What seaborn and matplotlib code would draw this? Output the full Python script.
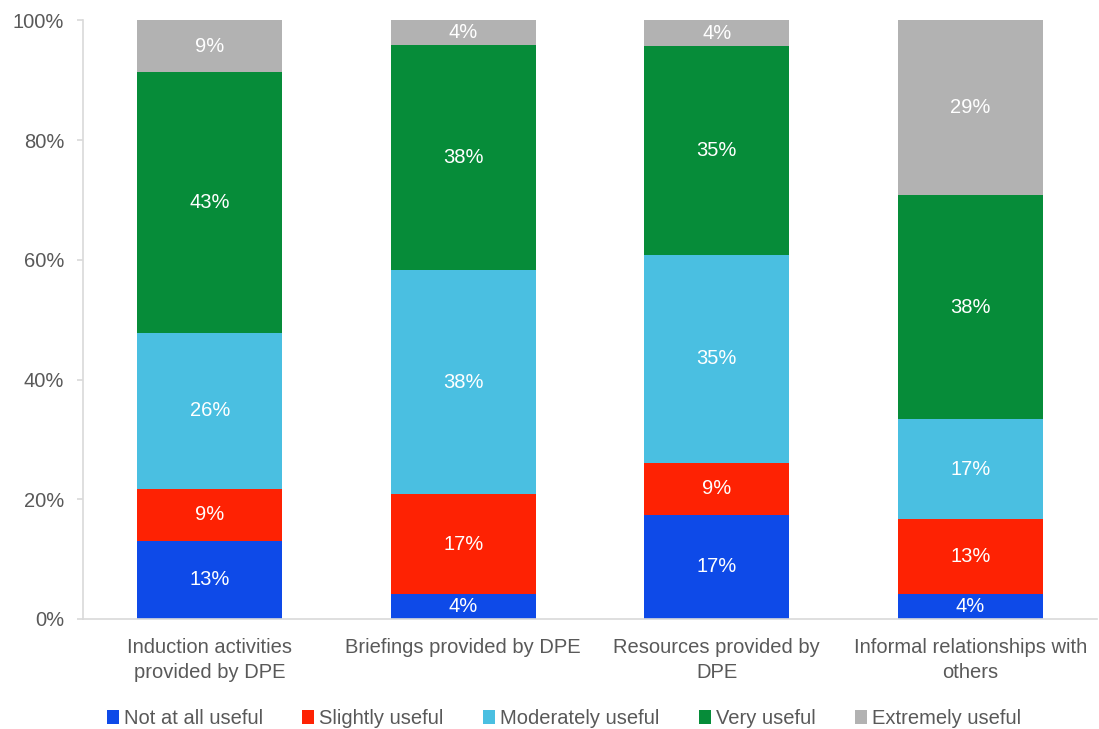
import numpy as np
import pandas as pd
import matplotlib
matplotlib.use("Agg")
import matplotlib.pyplot as plt
from matplotlib.patches import Patch
from matplotlib.ticker import FuncFormatter
import seaborn as sns

categories = ["Induction activities provided by DPE", "Briefings provided by DPE",
              "Resources provided by DPE", "Informal relationships with others"]
tick_labels = ["Induction activities\nprovided by DPE", "Briefings provided by DPE",
               "Resources provided by\nDPE", "Informal relationships with\nothers"]
series_names = ["Not at all useful", "Slightly useful", "Moderately useful",
                "Very useful", "Extremely useful"]
not_at_all = [13.04, 4.17, 17.39, 4.17]
slightly = [8.70, 16.67, 8.70, 12.50]
moderately = [26.09, 37.50, 34.78, 16.67]
very = [43.48, 37.50, 34.78, 37.50]
extremely = [8.70, 4.17, 4.35, 29.17]
colors = ["#0E4AE8", "#FE2203", "#4ABFE1", "#068C39", "#B2B2B2"]

sns.set_style("white")
plt.rcParams["font.family"] = ["Liberation Sans", "DejaVu Sans"]

series = [not_at_all, slightly, moderately, very, extremely]
vals = np.array(series, dtype=float)
cum = np.cumsum(vals, axis=0)

fig = plt.figure(figsize=(10.99, 7.29), dpi=100)
ax = fig.add_axes([83 / 1099, 1 - 619 / 729, (1097 - 83) / 1099, (619 - 20.4) / 729])

for i in range(len(series) - 1, -1, -1):
    df = pd.DataFrame({"cat": categories, "val": cum[i]})
    sns.barplot(data=df, x="cat", y="val", order=categories, color=colors[i],
                saturation=1, width=0.572, linewidth=0, ax=ax)

for i in range(len(series)):
    for j in range(len(categories)):
        v = vals[i, j]
        mid = cum[i, j] - v / 2
        ax.text(j, mid, f"{int(np.floor(v + 0.5))}%", ha="center", va="center",
                color="white", fontsize=14.5)

ax.set_xlim(-0.5, len(categories) - 0.5)
ax.set_ylim(0, 100)
ax.set_yticks([0, 20, 40, 60, 80, 100])
ax.yaxis.set_major_formatter(FuncFormatter(lambda y, _: f"{y:.0f}%"))
ax.set_xticks(range(len(categories)))
ax.set_xticklabels(tick_labels, linespacing=1.42)
ax.set_xlabel("")
ax.set_ylabel("")

for s in ["top", "right"]:
    ax.spines[s].set_visible(False)
for s in ["left", "bottom"]:
    ax.spines[s].set_color("#D9D9D9")
    ax.spines[s].set_linewidth(1.2)

ax.tick_params(axis="y", which="both", left=True, length=4.5, width=1.2,
               color="#D9D9D9", labelsize=14.5, labelcolor="#595959", pad=9)
ax.tick_params(axis="x", bottom=False, labelsize=14.5, labelcolor="#595959", pad=10)

handles = [Patch(facecolor=c, edgecolor="none") for c in colors]
fig.legend(handles, series_names, loc="center", bbox_to_anchor=(0.513, 0.014),
           ncol=5, frameon=False, fontsize=14.5, handlelength=0.6, handleheight=0.7,
           handletextpad=0.25, columnspacing=1.95, labelcolor="#595959")

fig.savefig("out.png", dpi=100)
